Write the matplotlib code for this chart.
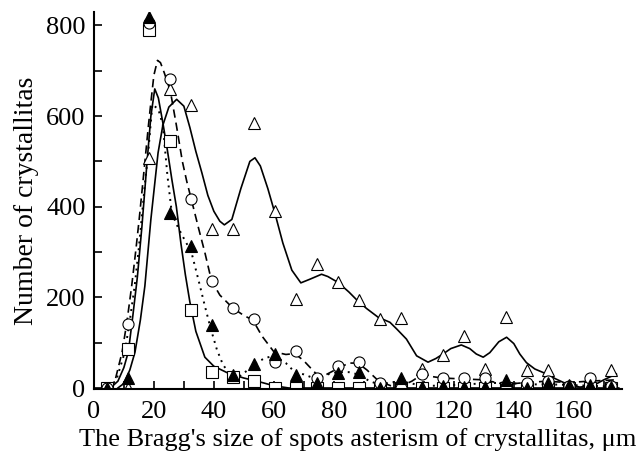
import matplotlib
matplotlib.use("Agg")
import matplotlib.pyplot as plt

plt.rcParams['font.family'] = ['Liberation Serif', 'DejaVu Serif']

# measured points (same x grid for all four series)
x_pts = [4.3, 11.3, 18.3, 25.3, 32.3, 39.3, 46.3, 53.3, 60.3, 67.3, 74.3, 81.3, 88.3,
         95.3, 102.3, 109.3, 116.3, 123.3, 130.3, 137.3, 144.3, 151.3, 158.3, 165.3, 172.3]
squares = [0, 86, 790, 545, 172, 35, 25, 16, 0, 0, 0, 0, 0,
           0, 0, 0, 0, 0, 0, 0, 0, 0, 0, 0, 0]
circles = [0, 141, 805, 682, 416, 237, 176, 152, 57, 82, 21, 48, 58,
           11, 0, 30, 23, 21, 21, 0, 10, 15, 5, 21, 5]
tri_filled = [0, 22, 818, 387, 314, 138, 28, 53, 75, 29, 10, 33, 36,
              0, 23, 3, 5, 3, 3, 18, 0, 10, 7, 7, 3]
tri_open = [0, 0, 507, 660, 624, 350, 350, 584, 390, 196, 273, 234, 194,
            153, 155, 42, 73, 115, 42, 156, 40, 40, 3, 3, 40]

# fitted curves
sq_cx = [4, 6, 8, 10, 11.5, 13, 14.5, 16, 17.5, 19, 20.3, 21.5, 23, 24.5, 26, 27.5,
         29, 30.5, 32, 34, 37, 40, 45, 50, 55, 60, 65, 175]
sq_cy = [0, 3, 15, 45, 80, 160, 245, 355, 480, 600, 660, 640, 585, 525, 460, 400,
         320, 250, 190, 125, 68, 48, 32, 22, 14, 5, 0, 0]

ci_cx = [4.5, 7, 9.4, 11, 12.6, 14, 15.1, 16.2, 17.3, 18.2, 19, 20, 21.2, 22.2, 23.5,
         25.5, 27.5, 29.5, 31, 32.5, 35, 37, 39.2, 42, 46.4, 50, 53, 56, 60, 64, 67,
         70, 74, 77, 81, 85, 88, 91, 95, 99, 102, 106, 109, 113, 116, 123, 130, 137,
         144, 151, 158, 165, 174]
ci_cy = [0, 15, 79, 145, 225, 305, 372, 445, 519, 580, 630, 690, 723, 718, 695,
         655, 580, 500, 455, 416, 350, 299, 237, 205, 176, 160, 150, 115, 80, 74, 76,
         60, 32, 28, 42, 55, 55, 40, 15, 5, 3, 15, 28, 25, 22, 20, 18, 8,
         12, 15, 12, 15, 18]

tf_cx = [5, 7.5, 10.3, 12, 13.6, 15, 15.9, 17, 18.1, 19.5, 21.5, 23, 24.5, 26, 28,
         30, 32.5, 35, 37, 39, 41, 43, 45, 48, 51, 54, 57, 60, 64, 67, 70, 74, 78,
         81, 85, 88, 92, 95, 99, 102, 106, 109, 116, 123, 130, 137, 144, 151, 158,
         165, 174]
tf_cy = [0, 18, 79, 150, 225, 310, 372, 450, 519, 626, 615, 580, 470, 385, 355,
         330, 300, 235, 181, 130, 85, 52, 33, 23, 38, 55, 66, 71, 55, 35, 30, 20, 30,
         35, 35, 30, 15, 8, 12, 15, 10, 5, 5, 8, 10, 12, 8, 8, 7,
         5, 3]

to_cx = [8, 10, 12, 13.7, 15.5, 17, 19, 21.4, 23, 25, 27.6, 30, 32, 34, 36, 38,
         40, 42, 43.5, 46, 49, 52, 53.7, 55.5, 58, 60.3, 63, 66, 69, 72, 75.9, 78, 81.4,
         85, 88, 91, 94.8, 98.7, 101, 104.2, 107.6, 111.4, 114, 116.4, 119, 122.5,
         125.3, 127.5, 129.8, 132, 135, 137.6, 140, 142, 144.2, 147, 150.9, 154,
         157.6, 162, 166.4, 170, 174.2]
to_cy = [0, 10, 40, 79, 150, 225, 372, 519, 580, 620, 637, 622, 575, 522, 475, 425,
         390, 368, 360, 372, 440, 500, 508, 490, 440, 387, 320, 260, 232, 240, 251, 246, 233,
         212, 192, 175, 156, 145, 130, 108, 71, 57, 65, 75, 87, 95,
         87, 75, 68, 78, 102, 112, 98, 75, 56, 42, 31, 20,
         9, 2, 5, 18, 31]

fig = plt.figure(figsize=(6.43, 4.57), dpi=100)
ax = fig.add_axes([0.146, 0.149, 0.821, 0.825])

lw = 1.2
ax.plot(sq_cx, sq_cy, color='black', lw=lw, ls='-')
ax.plot(ci_cx, ci_cy, color='black', lw=lw, ls=(0, (5, 3)))
ax.plot(tf_cx, tf_cy, color='black', lw=1.4, ls=(0, (1, 2.5)))
ax.plot(to_cx, to_cy, color='black', lw=lw, ls='-')

mk = dict(ls='none', markersize=8, markeredgewidth=0.8, markeredgecolor='black')
ax.plot(x_pts, tri_open, marker='^', markerfacecolor='white', **mk)
ax.plot(x_pts, squares, marker='s', markerfacecolor='white', **mk)
ax.plot(x_pts, circles, marker='o', markerfacecolor='white', **mk)
ax.plot(x_pts, tri_filled, marker='^', markerfacecolor='black', **mk)

ax.set_xlim(0, 176)
ax.set_ylim(-2, 830)
ax.set_xticks(range(0, 161, 20))
ax.set_xticks(range(10, 171, 20), minor=True)
ax.set_yticks(range(0, 801, 200))
ax.set_yticks(range(100, 801, 200), minor=True)
ax.tick_params(which='both', direction='in', labelsize=19, width=1.2, color='black')
ax.tick_params(which='both', length=6)
ax.tick_params(axis='x', which='major', pad=9)
ax.tick_params(axis='y', which='major', pad=6)
for s in ['top', 'right']:
    ax.spines[s].set_visible(False)
for s in ['left', 'bottom']:
    ax.spines[s].set_linewidth(1.5)

ax.set_xlabel("The Bragg's size of spots asterism of crystallitas, \u03bcm", fontsize=19, labelpad=3)
ax.set_ylabel("Number of crystallitas", fontsize=20, labelpad=5)

fig.savefig("out.png", dpi=100)
